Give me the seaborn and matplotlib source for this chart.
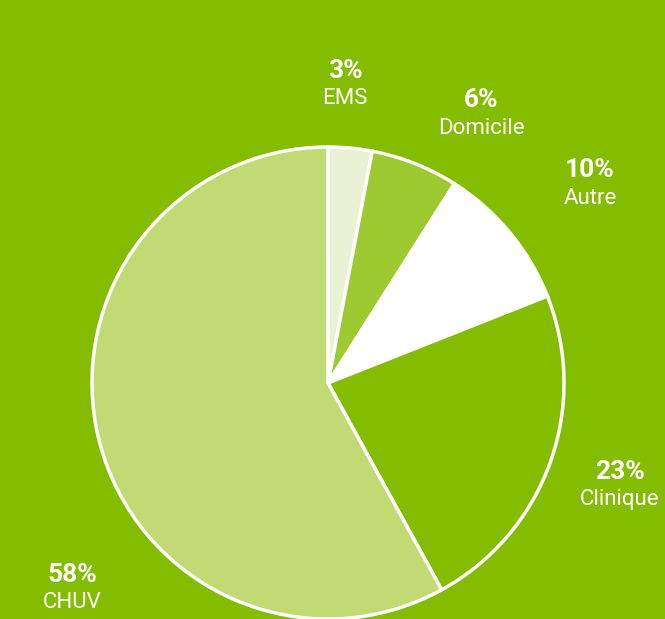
import matplotlib
matplotlib.use("Agg")
import matplotlib.pyplot as plt
import seaborn as sns

# Datos del gráfico
categorias = ["EMS", "Domicile", "Autre", "Clinique", "CHUV"]
valores = [3, 6, 10, 23, 58]
colores = ["#E9F2D4", "#9DCA30", "#FFFFFF", "#84BC00", "#C0DA74"]

# Posiciones de las etiquetas (pixeles, origen arriba a la izquierda)
etiquetas_x = [345, 481, 590, 620, 72]
etiquetas_y = [71, 100, 170, 472, 575]

fondo = "#84BC00"
W, H = 665, 619

sns.set_style("white")
plt.rcParams["font.family"] = ["Roboto", "DejaVu Sans"]

fig = plt.figure(figsize=(W / 100, H / 100), dpi=100, facecolor=fondo)
ax = fig.add_axes([0, 0, 1, 1])
ax.set_facecolor(fondo)

ax.pie(valores, colors=colores, startangle=90, counterclock=False,
       center=(328, H - 383), radius=236,
       wedgeprops=dict(edgecolor="white", linewidth=2.5))

for cat, val, x, y in zip(categorias, valores, etiquetas_x, etiquetas_y):
    ax.text(x, H - y, f"{val}%", color="white", fontsize=19, fontweight="bold",
            ha="center", va="center")
    ax.text(x, H - y - 28, cat, color="white", fontsize=16,
            ha="center", va="center")

ax.set_xlim(0, W)
ax.set_ylim(0, H)
ax.set_aspect("equal")
ax.axis("off")

fig.savefig("out.png", dpi=100, facecolor=fondo)
